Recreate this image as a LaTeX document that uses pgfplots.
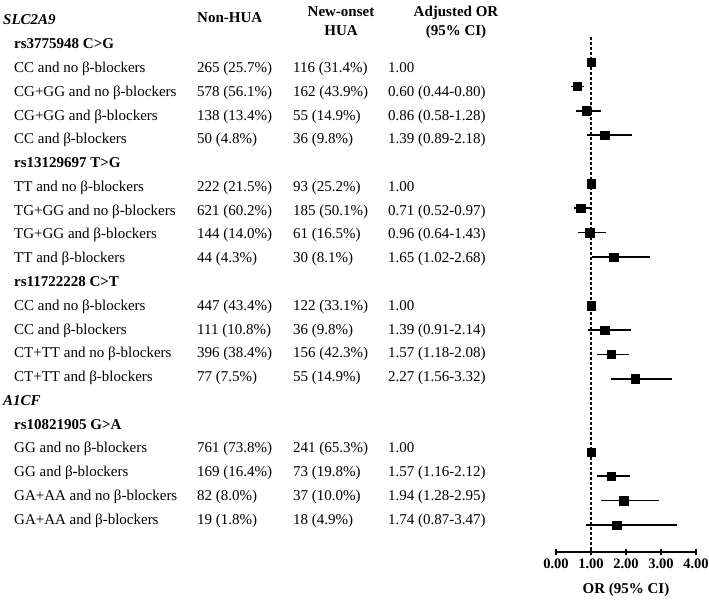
\documentclass[border=0pt]{standalone}
\usepackage{fontspec}
\setmainfont{Liberation Serif}
\usepackage{pgfplots}
\pgfplotsset{compat=1.18}
\usepackage{pgfplotstable}

% row index, adjusted OR, lower and upper 95% CI
\pgfplotstableread{
row or lo hi
1  1.00 1.00 1.00
2  0.60 0.44 0.80
3  0.86 0.58 1.28
4  1.39 0.89 2.18
6  1.00 1.00 1.00
7  0.71 0.52 0.97
8  0.96 0.64 1.43
9  1.65 1.02 2.68
11 1.00 1.00 1.00
12 1.39 0.91 2.14
13 1.57 1.18 2.08
14 2.27 1.56 3.32
17 1.00 1.00 1.00
18 1.57 1.16 2.12
19 1.94 1.28 2.95
20 1.74 0.87 3.47
}\ordata

\newcommand{\forestrow}[5]{%
  \pgfmathsetmacro\yb{44+23.75*#1+5}%
  \node at (14,\yb) {#2};
  \node at (197,\yb) {#3};
  \node at (293,\yb) {#4};
  \node at (388,\yb) {#5};
}

\begin{document}
\begin{tikzpicture}[font=\fontsize{15}{18}\selectfont]
\begin{axis}[
  scale only axis,
  width=140pt, height=515pt,
  xmin=0, xmax=4,
  ymin=-552, ymax=-37,
  axis x line*=bottom,
  axis y line=none,
  clip=false,
  xtick={0,1,2,3,4},
  xticklabels={0.00,1.00,2.00,3.00,4.00},
  xticklabel style={font=\fontsize{14.5}{17}\selectfont\bfseries},
  tick align=center,
  major tick length=6pt,
  major tick style={black, line width=1.4pt},
  axis line style={line width=1.8pt},
]
\addplot[densely dashed, line width=1.6pt] coordinates {(1,-37) (1,-552)};
\addplot[only marks, mark=square*, mark size=4.2pt, black,
  error bars/.cd, x dir=both, x explicit, error mark=none,
  error bar style={line width=1.6pt}]
  table[x=or, y expr={-(37.63+24.37*\thisrow{row})},
        x error plus expr={\thisrow{hi}-\thisrow{or}},
        x error minus expr={\thisrow{or}-\thisrow{lo}}] {\ordata};
\coordinate (P0) at (axis cs:-15.886,0);
\end{axis}

\begin{scope}[shift={(P0)}, x=1pt, y=-1pt,
  every node/.style={inner sep=0pt, anchor=base west}]
  % headers
  \node at (3,25) {\bfseries\itshape SLC2A9};
  \node at (197,23) {\bfseries Non-HUA};
  \node[anchor=base] at (341,17) {\bfseries New-onset};
  \node[anchor=base] at (341,36) {\bfseries HUA};
  \node[anchor=base] at (456,17) {\bfseries Adjusted OR};
  \node[anchor=base] at (456,36) {\bfseries (95\% CI)};
  % rs3775948
  \forestrow{0}{\bfseries rs3775948 C>G}{}{}{}
  \forestrow{1}{CC and no β-blockers}{265 (25.7\%)}{116 (31.4\%)}{1.00}
  \forestrow{2}{CG+GG and no β-blockers}{578 (56.1\%)}{162 (43.9\%)}{0.60 (0.44-0.80)}
  \forestrow{3}{CG+GG and β-blockers}{138 (13.4\%)}{55 (14.9\%)}{0.86 (0.58-1.28)}
  \forestrow{4}{CC and β-blockers}{50 (4.8\%)}{36 (9.8\%)}{1.39 (0.89-2.18)}
  % rs13129697
  \forestrow{5}{\bfseries rs13129697 T>G}{}{}{}
  \forestrow{6}{TT and no β-blockers}{222 (21.5\%)}{93 (25.2\%)}{1.00}
  \forestrow{7}{TG+GG and no β-blockers}{621 (60.2\%)}{185 (50.1\%)}{0.71 (0.52-0.97)}
  \forestrow{8}{TG+GG and β-blockers}{144 (14.0\%)}{61 (16.5\%)}{0.96 (0.64-1.43)}
  \forestrow{9}{TT and β-blockers}{44 (4.3\%)}{30 (8.1\%)}{1.65 (1.02-2.68)}
  % rs11722228
  \forestrow{10}{\bfseries rs11722228 C>T}{}{}{}
  \forestrow{11}{CC and no β-blockers}{447 (43.4\%)}{122 (33.1\%)}{1.00}
  \forestrow{12}{CC and β-blockers}{111 (10.8\%)}{36 (9.8\%)}{1.39 (0.91-2.14)}
  \forestrow{13}{CT+TT and no β-blockers}{396 (38.4\%)}{156 (42.3\%)}{1.57 (1.18-2.08)}
  \forestrow{14}{CT+TT and β-blockers}{77 (7.5\%)}{55 (14.9\%)}{2.27 (1.56-3.32)}
  % A1CF
  \node at (3,405) {\bfseries\itshape A1CF};
  \forestrow{16}{\bfseries rs10821905 G>A}{}{}{}
  \forestrow{17}{GG and no β-blockers}{761 (73.8\%)}{241 (65.3\%)}{1.00}
  \forestrow{18}{GG and β-blockers}{169 (16.4\%)}{73 (19.8\%)}{1.57 (1.16-2.12)}
  \forestrow{19}{GA+AA and no β-blockers}{82 (8.0\%)}{37 (10.0\%)}{1.94 (1.28-2.95)}
  \forestrow{20}{GA+AA and β-blockers}{19 (1.8\%)}{18 (4.9\%)}{1.74 (0.87-3.47)}
  % axis title
  \node[anchor=base] at (626,593) {\bfseries OR (95\% CI)};
\end{scope}
\pgfresetboundingbox
\path (P0) rectangle ++(709pt,-600pt);
\end{tikzpicture}
\end{document}
